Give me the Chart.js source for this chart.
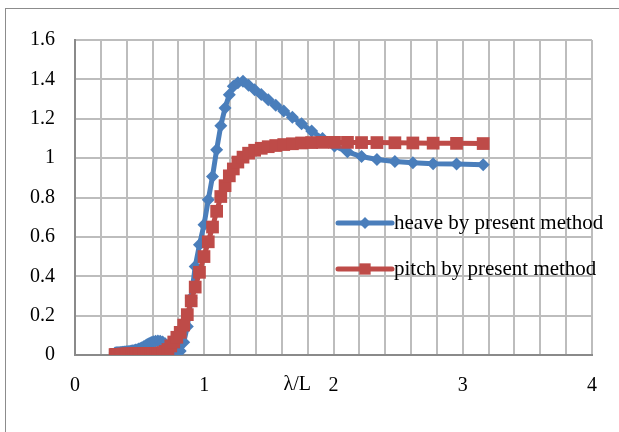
<!DOCTYPE html>
<html>
<head>
<meta charset="utf-8">
<script src="https://cdn.jsdelivr.net/npm/chart.js@4.4.0/dist/chart.umd.min.js"></script>
<style>
  html, body { margin: 0; padding: 0; background: #fff; }
  #wrap { width: 619px; height: 432px; }
</style>
</head>
<body>
<div id="wrap"><canvas id="myChart" width="619" height="432"></canvas></div>
<script>
// λ/L (x)
let lambda_L = [
  0.310, 0.316, 0.322, 0.329, 0.336, 0.343, 0.350, 0.358, 0.366, 0.374,
  0.382, 0.390, 0.399, 0.408, 0.417, 0.427, 0.437, 0.447, 0.458, 0.469,
  0.481, 0.493, 0.505, 0.518, 0.531, 0.545, 0.559, 0.574, 0.590, 0.606,
  0.623, 0.641, 0.659, 0.678, 0.698, 0.719, 0.741, 0.764, 0.788, 0.814,
  0.841, 0.869, 0.899, 0.930, 0.963, 0.998, 1.031, 1.064, 1.096, 1.128,
  1.161, 1.194, 1.225, 1.260, 1.300, 1.343, 1.390, 1.441, 1.495, 1.553,
  1.615, 1.682, 1.753, 1.831, 1.915, 2.008, 2.108, 2.217, 2.336, 2.475,
  2.614, 2.771, 2.952, 3.158
];

// heave by present method
let heave = [
  0.010, 0.010, 0.011, 0.011, 0.012, 0.012, 0.013, 0.013, 0.014, 0.014,
  0.015, 0.015, 0.016, 0.017, 0.018, 0.019, 0.020, 0.021, 0.023, 0.025,
  0.027, 0.030, 0.033, 0.037, 0.042, 0.047, 0.053, 0.058, 0.063, 0.067,
  0.070, 0.071, 0.070, 0.066, 0.057, 0.044, 0.028, 0.012, 0.002, 0.020,
  0.065, 0.145, 0.290, 0.449, 0.560, 0.661, 0.788, 0.907, 1.043, 1.165,
  1.255, 1.322, 1.365, 1.383, 1.390, 1.370, 1.347, 1.323, 1.297, 1.269,
  1.240, 1.208, 1.174, 1.138, 1.100, 1.062, 1.032, 1.008, 0.993, 0.983,
  0.977, 0.972, 0.970, 0.966
];

// pitch by present method
let pitch = [
  0.002, 0.002, 0.002, 0.003, 0.003, 0.003, 0.003, 0.003, 0.004, 0.004,
  0.004, 0.004, 0.004, 0.005, 0.005, 0.005, 0.005, 0.005, 0.005, 0.006,
  0.006, 0.006, 0.006, 0.006, 0.006, 0.006, 0.006, 0.007, 0.007, 0.007,
  0.007, 0.008, 0.009, 0.012, 0.018, 0.028, 0.046, 0.066, 0.090, 0.115,
  0.152, 0.205, 0.275, 0.345, 0.420, 0.500, 0.575, 0.650, 0.730, 0.805,
  0.860, 0.910, 0.945, 0.980, 1.005, 1.025, 1.040, 1.050, 1.058, 1.064,
  1.069, 1.073, 1.077, 1.079, 1.080, 1.080, 1.080, 1.079, 1.079, 1.078,
  1.077, 1.076, 1.075, 1.074
];

let seriesNames = ['heave by present method', 'pitch by present method'];
let heaveColor = '#4A7EBB';
let pitchColor = '#BE4B48';
let fontFamily = '"Liberation Serif", "Times New Roman", serif';

let heavePts = lambda_L.map((x, i) => ({x: x, y: heave[i]}));
let pitchPts = lambda_L.map((x, i) => ({x: x, y: pitch[i]}));

// frame, axis name, legend drawn by hand
const extras = {
  id: 'extras',
  beforeDraw(chart) {
    const ctx = chart.ctx;
    ctx.save();
    ctx.strokeStyle = '#8c8c8c';
    ctx.lineWidth = 1;
    ctx.strokeRect(5.5, 8.5, 1000, 1000);
    ctx.restore();
  },
  afterDraw(chart) {
    const ctx = chart.ctx;
    const a = chart.chartArea;
    const xs = chart.scales.x;
    ctx.save();
    ctx.fillStyle = '#000';
    ctx.font = '20px ' + fontFamily;
    ctx.textAlign = 'center';
    ctx.textBaseline = 'middle';
    ctx.fillText('λ/L', xs.getPixelForValue(1.72), a.bottom + 30);

    const items = [
      {text: seriesNames[0], color: heaveColor, style: 'rectRot', radius: 6},
      {text: seriesNames[1], color: pitchColor, style: 'rect', radius: 8}
    ];
    ctx.font = '21px ' + fontFamily;
    items.forEach((it, i) => {
      const y = a.top + 183 + i * 46;
      const x0 = a.left + 263;
      const x1 = x0 + 54;
      ctx.strokeStyle = it.color;
      ctx.lineWidth = 5;
      ctx.lineCap = 'round';
      ctx.beginPath();
      ctx.moveTo(x0, y);
      ctx.lineTo(x1, y);
      ctx.stroke();
      ctx.fillStyle = it.color;
      Chart.helpers.drawPoint(ctx, {pointStyle: it.style, radius: it.radius, borderWidth: 0, rotation: 0}, (x0 + x1) / 2, y);
      ctx.fillStyle = '#000';
      ctx.textAlign = 'left';
      ctx.fillText(it.text, x1 + 2, y);
    });
    ctx.restore();
  }
};

let ctx = document.getElementById('myChart');
new Chart(ctx, {
  type: 'scatter',
  data: {
    datasets: [{
      label: seriesNames[0],
      data: heavePts,
      showLine: true,
      borderColor: heaveColor,
      backgroundColor: heaveColor,
      borderWidth: 5,
      pointStyle: 'rectRot',
      pointRadius: 6.5,
      pointBorderWidth: 0,
      order: 2
    }, {
      label: seriesNames[1],
      data: pitchPts,
      showLine: true,
      borderColor: pitchColor,
      backgroundColor: pitchColor,
      borderWidth: 5,
      pointStyle: 'rect',
      pointRadius: 9,
      pointBorderWidth: 0,
      order: 1
    }]
  },
  options: {
    responsive: false,
    animation: false,
    layout: { padding: { top: 40, right: 27, left: 0, bottom: 0 } },
    plugins: {
      legend: { display: false },
      tooltip: { enabled: false }
    },
    scales: {
      x: {
        type: 'linear',
        min: 0,
        max: 4,
        afterFit(scale) { scale.height = 77; },
        ticks: {
          stepSize: 0.2,
          autoSkip: false,
          maxRotation: 0,
          padding: 19,
          color: '#000',
          font: { family: fontFamily, size: 20 },
          callback: function(value) {
            return Math.abs(value - Math.round(value)) < 1e-6 ? String(Math.round(value)) : '';
          }
        },
        grid: { color: '#bdbdbd', lineWidth: 2, drawTicks: false },
        border: { color: '#8a8a8a', width: 2 }
      },
      y: {
        min: 0,
        max: 1.6,
        afterFit(scale) { scale.width = 75; },
        ticks: {
          stepSize: 0.2,
          padding: 20,
          color: '#000',
          font: { family: fontFamily, size: 20 },
          callback: function(value) {
            return String(parseFloat(value.toFixed(2)));
          }
        },
        grid: { color: '#bdbdbd', lineWidth: 2, drawTicks: false },
        border: { color: '#8a8a8a', width: 2 }
      }
    }
  },
  plugins: [extras]
});
</script>
</body>
</html>
